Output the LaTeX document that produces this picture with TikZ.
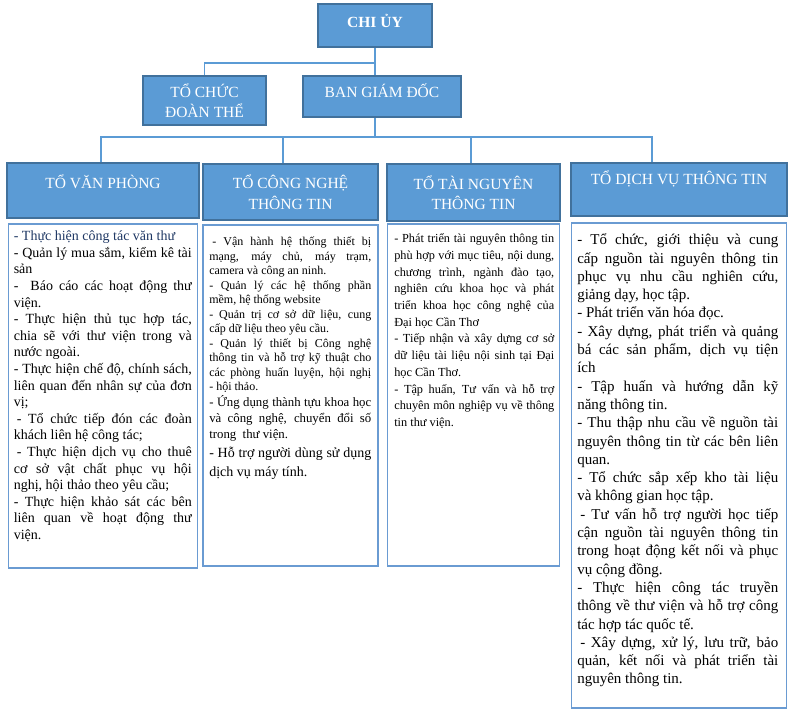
\documentclass[tikz,border=0pt]{standalone}
\usepackage{fontspec}
\setmainfont{Liberation Serif}
\usepackage{tikz}
\usetikzlibrary{positioning}
\definecolor{headfill}{HTML}{5B9BD5}
\definecolor{headline}{HTML}{41719C}
\definecolor{boxline}{HTML}{6A9BD2}
\definecolor{navy}{HTML}{1F3864}
\tikzstyle{head} = [draw=headline, line width=1.5pt, fill=headfill, text=white, align=center, inner sep=0pt, font=\fontsize{15.5}{20.5}\selectfont]
\tikzstyle{txtbox} = [draw=boxline, line width=1.8pt, fill=white, inner sep=0pt]
\tikzstyle{body} = [anchor=base west, inner sep=0pt, align=justify]
\tikzstyle{conn} = [draw=headfill, line width=1.5pt]
\tolerance=10000 \hbadness=10000 \hyphenpenalty=10000 \exhyphenpenalty=10000

\begin{document}
\begin{tikzpicture}[x=1pt,y=-1pt]
  \path[use as bounding box, fill=white] (0,0) rectangle (793,712);

  \node[head, minimum width=114pt, minimum height=43pt, text height=12pt, text depth=8.8pt, font=\fontsize{15.5}{20.5}\selectfont\bfseries] (chiuy) at (375,25.5) {CHI ỦY};
  \node[head, minimum width=123pt, minimum height=49pt] (doanthe) at (204.5,100.5) {TỔ CHỨC\\ĐOÀN THỂ};
  \node[head, minimum width=158pt, minimum height=41pt, text height=12pt, text depth=10.8pt] (bgd) at (382,96.5) {BAN GIÁM ĐỐC};

  \node[head, minimum width=192pt, minimum height=55pt, text height=12pt, text depth=16.8pt] (vp) at (103,190.5) {TỔ VĂN PHÒNG};
  \node[head, minimum width=175pt, minimum height=56pt] (cntt) at (290.5,192) {TỔ CÔNG NGHỆ\\THÔNG TIN};
  \node[head, minimum width=173pt, minimum height=57pt] (tntt) at (473.5,192.5) {TỔ TÀI NGUYÊN\\THÔNG TIN};
  \node[head, minimum width=216pt, minimum height=53pt, text height=12pt, text depth=22.8pt] (dvtt) at (679,189.5) {TỔ DỊCH VỤ THÔNG TIN};

  \node[txtbox, minimum width=189pt, minimum height=344pt, below=4pt of vp] (vpbox) {};
  \node[txtbox, minimum width=175pt, minimum height=341pt, below=3pt of cntt] (cnbox) {};
  \node[txtbox, minimum width=172pt, minimum height=342pt, below=1pt of tntt] (tnbox) {};
  \node[txtbox, minimum width=215pt, minimum height=485pt, below=5pt of dvtt] (dvbox) {};

  \node[body, text width=178pt, font=\fontsize{14}{16.6}\selectfont] (vptxt) at ([shift={(6,18)}]vpbox.north west) {%
    \textcolor{navy}{- Thực hiện công tác văn thư}\par
    - Quản lý mua sắm, kiểm kê tài\linebreak sản\par
    - \ Báo cáo các hoạt động thư\linebreak viện.\par
    - Thực hiện thủ tục hợp tác,\linebreak chia sẽ với thư viện trong và\linebreak nước ngoài.\par
    - Thực hiện chế độ, chính sách,\linebreak liên quan đến nhân sự của đơn\linebreak vị;\par
    \hspace*{3pt}- Tổ chức tiếp đón các đoàn\linebreak khách liên hệ công tác;\par
    \hspace*{3pt}- Thực hiện dịch vụ cho thuê\linebreak cơ sở vật chất phục vụ hội\linebreak nghị, hội thảo theo yêu cầu;\par
    - Thực hiện khảo sát các bên\linebreak liên quan về hoạt động thư\linebreak viện.};

  \node[body, text width=162pt, font=\fontsize{12}{14.5}\selectfont] (cntxt) at ([shift={(7,22)}]cnbox.north west) {%
    \hspace*{3pt}- Vận hành hệ thống thiết bị\linebreak mạng, máy chủ, máy trạm,\linebreak camera và công an ninh.\par
    - Quản lý các hệ thống phần\linebreak mềm, hệ thống website\par
    - Quản trị cơ sở dữ liệu, cung\linebreak cấp dữ liệu theo yêu cầu.\par
    - Quản lý thiết bị Công nghệ\linebreak thông tin và hỗ trợ kỹ thuật cho\linebreak các phòng huấn luyện, hội nghị\linebreak - hội thảo.\par
    {\fontsize{12.8}{16}\selectfont - Ứng dụng thành tựu khoa học\linebreak và công nghệ, chuyển đổi số\linebreak trong\ \ thư viện.\par}
    {\fontsize{14}{19}\selectfont - Hỗ trợ người dùng sử dụng\linebreak dịch vụ máy tính.\par}};

  \node[body, text width=160pt, font=\fontsize{12.3}{16.7}\selectfont] (tntxt) at ([shift={(7.5,20)}]tnbox.north west) {%
    - Phát triển tài nguyên thông tin\linebreak phù hợp với mục tiêu, nội dung,\linebreak chương trình, ngành đào tạo,\linebreak nghiên cứu khoa học và phát\linebreak triển khoa học công nghệ của\linebreak Đại học Cần Thơ\par
    - Tiếp nhận và xây dựng cơ sở\linebreak dữ liệu tài liệu nội sinh tại Đại\linebreak học Cần Thơ.\par
    - Tập huấn, Tư vấn và hỗ trợ\linebreak chuyên môn nghiệp vụ về thông\linebreak tin thư viện.};

  \node[body, text width=201pt, font=\fontsize{15}{18.3}\selectfont] (dvtxt) at ([shift={(6.5,23)}]dvbox.north west) {%
    - Tổ chức, giới thiệu và cung\linebreak cấp nguồn tài nguyên thông tin\linebreak phục vụ nhu cầu nghiên cứu,\linebreak giảng dạy, học tập.\par
    - Phát triển văn hóa đọc.\par
    - Xây dựng, phát triển và quảng\linebreak bá các sản phẩm, dịch vụ tiện\linebreak ích\par
    - Tập huấn và hướng dẫn kỹ\linebreak năng thông tin.\par
    - Thu thập nhu cầu về nguồn tài\linebreak nguyên thông tin từ các bên liên\linebreak quan.\par
    - Tổ chức sắp xếp kho tài liệu\linebreak và không gian học tập.\par
    \hspace*{3pt}- Tư vấn hỗ trợ người học tiếp\linebreak cận nguồn tài nguyên thông tin\linebreak trong hoạt động kết nối và phục\linebreak vụ cộng đồng.\par
    - Thực hiện công tác truyền\linebreak thông về thư viện và hỗ trợ công\linebreak tác hợp tác quốc tế.\par
    \hspace*{3pt}- Xây dựng, xử lý, lưu trữ, bảo\linebreak quản, kết nối và phát triển tài\linebreak nguyên thông tin.};

  \coordinate (j1) at ([yshift=-15pt]chiuy.south);
  \coordinate (d1) at (101,137);
  \coordinate (d2) at (283,137);
  \coordinate (d3) at (471,137);
  \coordinate (d4) at (652,137);
  \draw[conn] (chiuy.south) -- (chiuy.south |- bgd.north);
  \draw[conn] (doanthe.north) |- (j1);
  \draw[conn] (chiuy.south |- bgd.south) -- (chiuy.south |- d1);
  \draw[conn] (d1 |- vp.north) -- (d1) -- (d4) -- (d4 |- dvtt.north);
  \foreach \n/\d in {cntt/d2, tntt/d3}
    \draw[conn] (\d) -- (\d |- \n.north);
\end{tikzpicture}
\end{document}
